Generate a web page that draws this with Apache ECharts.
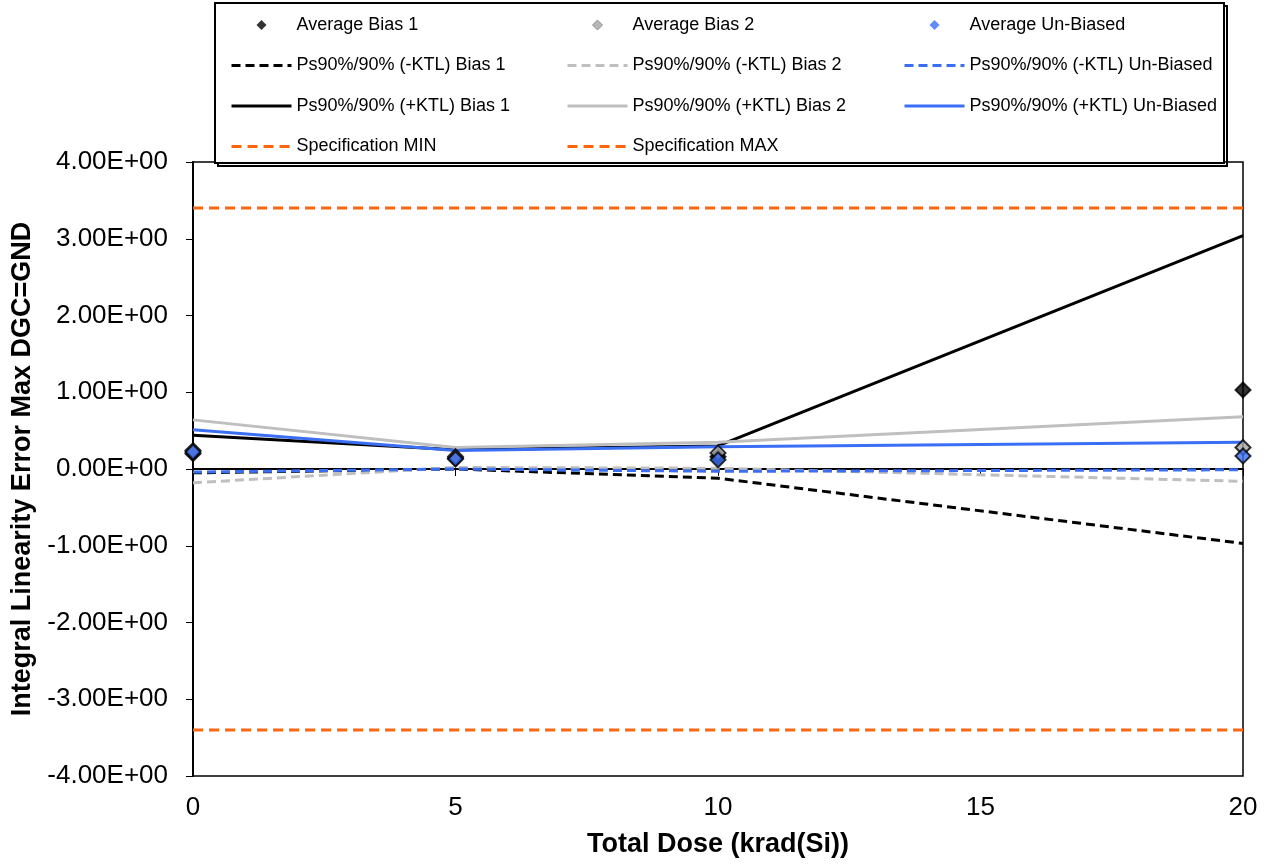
<!DOCTYPE html>
<html>
<head>
<meta charset="utf-8">
<script src="https://cdn.jsdelivr.net/npm/echarts@6/dist/echarts.min.js"></script>
<style>
  html, body { margin: 0; padding: 0; background: #fff; }
  #chart { width: 1268px; height: 865px; }
</style>
</head>
<body>
<div id="chart"></div>
<script>
// dose points, krad(Si)
var doses = [0, 5, 10, 20];

var avgBias1 = [0.20, 0.14, 0.16, 1.03];
var avgBias2 = [0.24, 0.16, 0.21, 0.28];
var avgUnbiased = [0.22, 0.13, 0.12, 0.17];

var minusKtlBias1 = [-0.05, 0.00, -0.12, -0.97];
var minusKtlBias2 = [-0.18, 0.02, 0.01, -0.16];
var minusKtlUnbiased = [-0.04, 0.00, -0.03, -0.01];

var plusKtlBias1 = [0.44, 0.25, 0.30, 3.04];
var plusKtlBias2 = [0.64, 0.28, 0.35, 0.68];
var plusKtlUnbiased = [0.51, 0.24, 0.29, 0.35];

var specMin = -3.4;
var specMax = 3.4;

var xTicks = [0, 5, 10, 15, 20];
var yTicks = [-4, -3, -2, -1, 0, 1, 2, 3, 4];

function pairs(vals) {
  return doses.map(function (d, i) { return [d, vals[i]]; });
}
function specLine(v) {
  return [[0, v], [20, v]];
}

var BLACK = '#000000', GRAY = '#bfbfbf', BLUE = '#3a6ef5', ORANGE = '#ff6610';
var FONT = 'Liberation Sans, Arial, sans-serif';
// small diamond centred in a 60x10 legend slot
var DIAMOND = 'path://M0,5L0,5M25,5L30,0L35,5L30,10ZM60,5L60,5';

function scatter(name, vals, fill) {
  return {
    name: name, type: 'scatter', data: pairs(vals), symbol: 'diamond', symbolSize: 15,
    itemStyle: { color: fill, borderColor: '#000', borderWidth: 2 }, z: 5
  };
}
function line(name, vals, color, dashed) {
  return {
    name: name, type: 'line', data: pairs(vals), symbol: 'none', z: 3,
    lineStyle: { color: color, width: 3, type: dashed ? [9, 5] : 'solid' },
    itemStyle: { color: color }
  };
}
function lineItem(name) {
  return { name: name, itemStyle: { opacity: 0 }, lineStyle: { width: 3 } };
}

var chart = echarts.init(document.getElementById('chart'));

var legendBase = {
  orient: 'vertical', top: 16, padding: 0, itemWidth: 60, itemHeight: 10, itemGap: 22.5,
  symbolKeepAspect: true,
  textStyle: { fontFamily: FONT, fontSize: 18, color: '#000' }
};

chart.setOption({
  animation: false,
  backgroundColor: '#fff',
  textStyle: { fontFamily: FONT },
  graphic: [
    { type: 'rect', shape: { x: 218, y: 6, width: 1009, height: 160 },
      style: { fill: 'none', stroke: '#000', lineWidth: 2 }, z: 0 },
    { type: 'rect', shape: { x: 215, y: 3, width: 1009, height: 160 },
      style: { fill: '#fff', stroke: '#000', lineWidth: 2 }, z: 1 }
  ],
  legend: [
    Object.assign({}, legendBase, { left: 230, data: [
      { name: 'Average Bias 1', icon: DIAMOND, itemStyle: { borderWidth: 0 } },
      lineItem('Ps90%/90% (-KTL) Bias 1'), lineItem('Ps90%/90% (+KTL) Bias 1'), lineItem('Specification MIN')] }),
    Object.assign({}, legendBase, { left: 566, data: [
      { name: 'Average Bias 2', icon: DIAMOND, itemStyle: { borderWidth: 1, borderColor: '#808080' } },
      lineItem('Ps90%/90% (-KTL) Bias 2'), lineItem('Ps90%/90% (+KTL) Bias 2'), lineItem('Specification MAX')] }),
    Object.assign({}, legendBase, { left: 903, data: [
      { name: 'Average Un-Biased', icon: DIAMOND, itemStyle: { borderWidth: 0 } },
      lineItem('Ps90%/90% (-KTL) Un-Biased'), lineItem('Ps90%/90% (+KTL) Un-Biased')] })
  ],
  grid: { left: 193, right: 25, top: 162, bottom: 89, show: true, borderColor: '#000', borderWidth: 1.5 },
  xAxis: {
    type: 'value', min: 0, max: 20, interval: 5,
    name: 'Total Dose (krad(Si))', nameLocation: 'middle', nameGap: 55,
    nameTextStyle: { fontFamily: FONT, fontSize: 27, fontWeight: 'bold', color: '#000' },
    axisLine: { lineStyle: { color: '#000', width: 2 } },
    axisTick: { inside: false, length: 7, lineStyle: { color: '#000' } },
    axisLabel: { fontFamily: FONT, fontSize: 26, color: '#000', margin: 19,
      formatter: function (v) { return xTicks.indexOf(v) >= 0 ? String(v) : ''; } },
    splitLine: { show: false }
  },
  yAxis: {
    type: 'value', min: -4, max: 4, interval: 1,
    name: 'Integral Linearity Error Max DGC=GND', nameLocation: 'middle', nameGap: 157,
    nameTextStyle: { fontFamily: FONT, fontSize: 27, fontWeight: 'bold', color: '#000' },
    axisLine: { lineStyle: { color: '#000', width: 2 } },
    axisTick: { inside: false, length: 7, lineStyle: { color: '#000' } },
    axisLabel: { fontFamily: FONT, fontSize: 26, color: '#000', margin: 25,
      formatter: function (v) { return yTicks.indexOf(v) >= 0 ? v.toFixed(2) + 'E+00' : ''; } },
    splitLine: { show: false }
  },
  series: [
    scatter('Average Bias 1', avgBias1, BLACK),
    scatter('Average Bias 2', avgBias2, '#a6a6a6'),
    scatter('Average Un-Biased', avgUnbiased, BLUE),
    line('Ps90%/90% (-KTL) Bias 1', minusKtlBias1, BLACK, true),
    line('Ps90%/90% (-KTL) Bias 2', minusKtlBias2, GRAY, true),
    line('Ps90%/90% (-KTL) Un-Biased', minusKtlUnbiased, BLUE, true),
    line('Ps90%/90% (+KTL) Bias 1', plusKtlBias1, BLACK, false),
    line('Ps90%/90% (+KTL) Bias 2', plusKtlBias2, GRAY, false),
    line('Ps90%/90% (+KTL) Un-Biased', plusKtlUnbiased, BLUE, false),
    { name: 'Specification MIN', type: 'line', data: specLine(specMin), symbol: 'none', z: 2,
      lineStyle: { color: ORANGE, width: 3, type: [10, 6] }, itemStyle: { color: ORANGE } },
    { name: 'Specification MAX', type: 'line', data: specLine(specMax), symbol: 'none', z: 2,
      lineStyle: { color: ORANGE, width: 3, type: [10, 6] }, itemStyle: { color: ORANGE } }
  ]
});
</script>
</body>
</html>
